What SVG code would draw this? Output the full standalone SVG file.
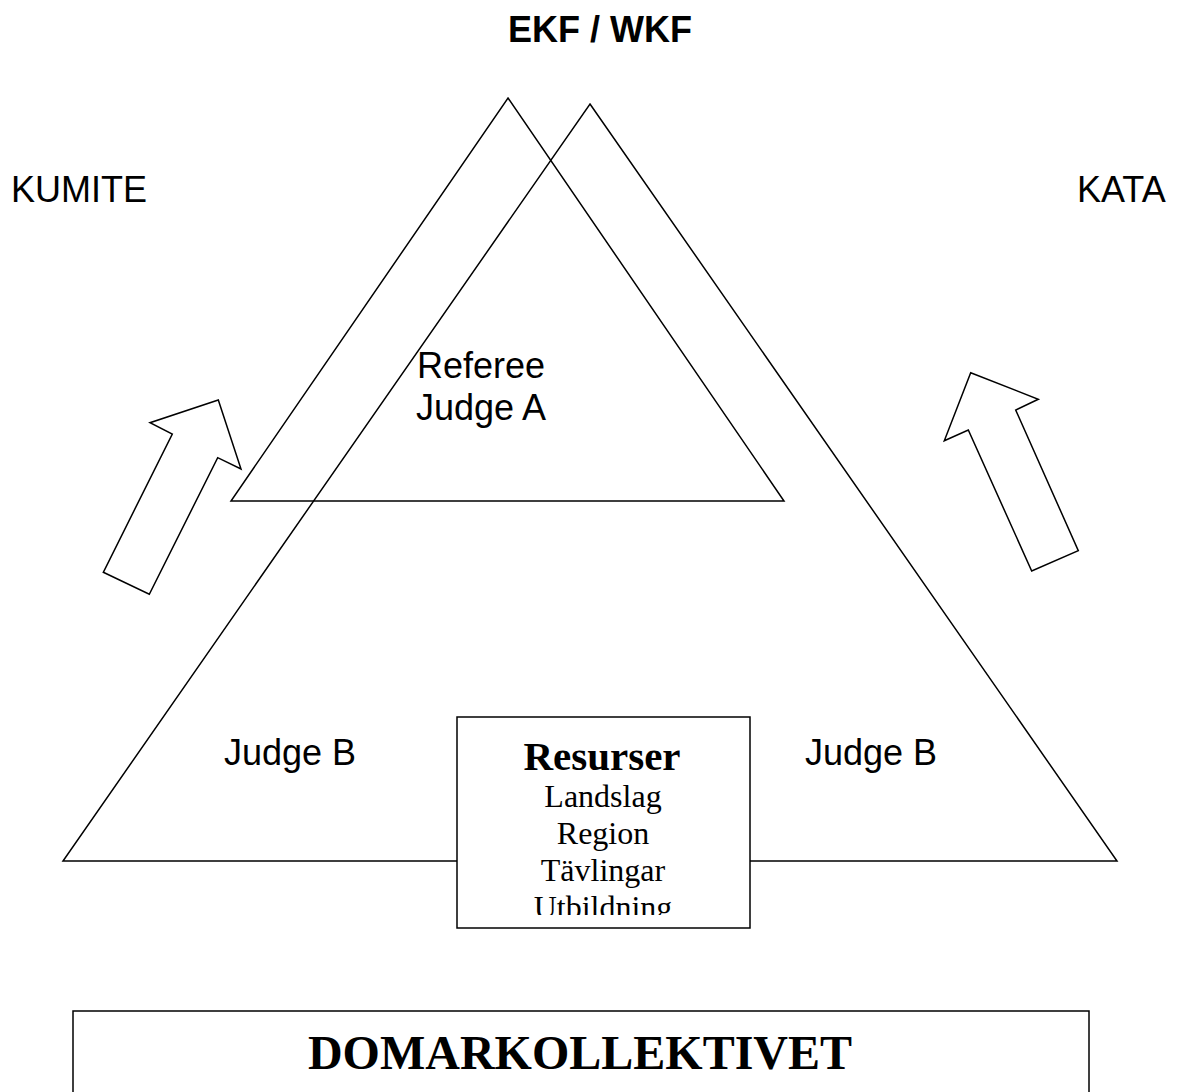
<svg xmlns="http://www.w3.org/2000/svg" width="1182" height="1092" viewBox="0 0 1182 1092">
<style>
.ln{fill:none;stroke:#000;stroke-width:1.5;stroke-linejoin:miter}
.wf{fill:#fff;stroke:#000;stroke-width:1.5;stroke-linejoin:miter}
.sans{font-family:"Liberation Sans",Arial,sans-serif;font-size:36px;fill:#000}
.serif{font-family:"Liberation Serif","Times New Roman",serif;fill:#000}
</style>
<defs>
<clipPath id="boxclip"><rect x="457" y="717" width="293" height="198"/></clipPath>
</defs>
<rect width="1182" height="1092" fill="#fff"/>
<g id="title"><text class="sans" x="600" y="42" text-anchor="middle" font-weight="bold">EKF / WKF</text></g>
<g id="kumite"><text class="sans" x="11" y="202">KUMITE</text></g>
<g id="kata"><text class="sans" x="1077" y="202">KATA</text></g>
<g id="big-triangle"><polygon class="ln" points="590,104 1117,861 63,861"/></g>
<g id="small-triangle"><polygon class="ln" points="508,98 784,501 231,501"/></g>
<g id="referee"><text class="sans" x="417" y="378">Referee</text><text class="sans" x="416" y="420">Judge A</text></g>
<g id="judge-b-left"><text class="sans" x="224" y="765">Judge B</text></g>
<g id="judge-b-right"><text class="sans" x="805" y="765">Judge B</text></g>
<g id="connectors">
<polygon class="wf" points="103.3,572.3 149.3,594.3 217.7,457.7 241,469 218.3,400 150,422.7 172.3,434"/>
<polygon class="wf" points="970.7,372.7 1038.3,399.3 1015.7,410 1078.3,550.7 1031.7,571 968.3,430 944.3,440.7"/>
</g>
<g id="resurser">
<rect class="wf" x="457" y="717" width="293" height="211"/>
<g clip-path="url(#boxclip)" text-anchor="middle">
<text class="serif" x="602" y="770" font-size="41" font-weight="bold">Resurser</text>
<text class="serif" x="603" y="807" font-size="32">Landslag</text>
<text class="serif" x="603" y="844" font-size="32">Region</text>
<text class="serif" x="603" y="881" font-size="32">Tävlingar</text>
<text class="serif" x="603" y="918" font-size="32">Utbildning</text>
</g>
</g>
<g id="domarkollektivet">
<rect class="wf" x="73" y="1011" width="1016" height="100"/>
<text class="serif" x="580" y="1069" font-size="48" font-weight="bold" text-anchor="middle">DOMARKOLLEKTIVET</text>
</g>
</svg>
